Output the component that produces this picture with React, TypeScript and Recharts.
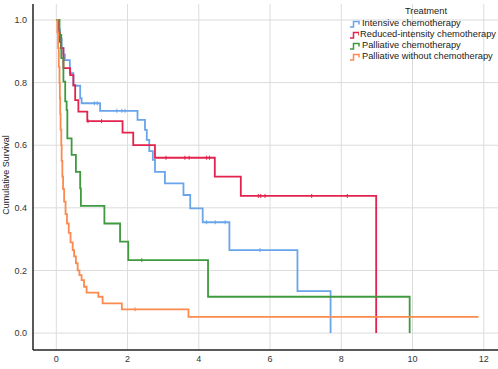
import React from "react";
import { ComposedChart, Line, Scatter, XAxis, YAxis, CartesianGrid } from "recharts";

// survival curves: [time in years, cumulative survival]
const intensive = [
  [0, 1], [0.05, 0.97], [0.1, 0.94], [0.15, 0.91], [0.2, 0.89], [0.24, 0.872], [0.38, 0.83],
  [0.48, 0.79], [0.67, 0.75], [0.71, 0.734], [1.23, 0.71], [2.28, 0.681], [2.49, 0.649],
  [2.54, 0.617], [2.61, 0.581], [2.71, 0.553], [2.77, 0.515], [3.05, 0.478], [3.57, 0.441],
  [3.76, 0.398], [4.11, 0.354], [4.86, 0.265], [6.77, 0.134], [7.7, 0],
];
const reduced = [
  [0, 1], [0.06, 0.96], [0.1, 0.93], [0.13, 0.91], [0.2, 0.846], [0.39, 0.824], [0.48, 0.792],
  [0.53, 0.744], [0.62, 0.707], [0.87, 0.677], [1.86, 0.64], [2.16, 0.6], [2.77, 0.56],
  [4.45, 0.5], [5.18, 0.438], [8.98, 0],
];
const palliative = [
  [0, 1], [0.09, 0.952], [0.14, 0.878], [0.2, 0.803], [0.25, 0.74], [0.29, 0.712], [0.31, 0.622],
  [0.43, 0.569], [0.55, 0.515], [0.67, 0.462], [0.69, 0.406], [1.35, 0.35], [1.79, 0.292],
  [2.02, 0.233], [4.26, 0.116], [9.92, 0],
];
const noChemo = [
  [0, 1], [0.03, 0.96], [0.05, 0.91], [0.07, 0.85], [0.09, 0.8], [0.1, 0.75], [0.11, 0.7],
  [0.12, 0.65], [0.14, 0.6], [0.15, 0.55], [0.17, 0.5], [0.19, 0.46], [0.22, 0.42], [0.26, 0.38],
  [0.3, 0.35], [0.35, 0.32], [0.4, 0.29], [0.46, 0.265], [0.5, 0.245], [0.55, 0.223],
  [0.6, 0.2], [0.65, 0.185], [0.71, 0.169], [0.78, 0.148], [0.85, 0.129], [1.18, 0.116],
  [1.3, 0.095], [1.84, 0.076], [3.71, 0.052], [11.85, 0.052],
];

// censored observations (times)
const intensiveCensor = [1.07, 1.15, 1.7, 1.84, 1.93, 4.22, 4.46, 4.74, 5.72];
const reducedCensor = [0.89, 1.27, 3.08, 3.61, 3.73, 4.22, 4.3, 5.67, 5.74, 5.86, 7.17, 8.17];
const palliativeCensor = [2.4];
const noChemoCensor = [2.21];

const xTicks = [0, 2, 4, 6, 8, 10, 12];
const yTicks = [0, 0.2, 0.4, 0.6, 0.8, 1.0];

const series = [
  { name: "Intensive chemotherapy", color: "#6aa5ea", curve: intensive, censor: intensiveCensor },
  { name: "Reduced-intensity chemotherapy", color: "#e3234d", curve: reduced, censor: reducedCensor },
  { name: "Palliative chemotherapy", color: "#3f9a3f", curve: palliative, censor: palliativeCensor },
  { name: "Palliative without chemotherapy", color: "#fa8a4f", curve: noChemo, censor: noChemoCensor },
];

const toRows = (curve: number[][]) => curve.map(([t, s]) => ({ t, s }));

// survival at time t on a step curve
const valueAt = (curve: number[][], t: number) => {
  let s = curve[0][1];
  for (const [ct, cs] of curve) if (ct <= t) s = cs;
  return s;
};

const font = "'Liberation Sans', Arial, sans-serif";
const tickStyle = { fontSize: 9, fill: "#333", fontFamily: font };

const StepIcon = ({ color }: { color: string }) => (
  <svg width={11} height={8} style={{ marginRight: 1 }}>
    <path d="M0,7 H3.5 V1.5 H9 V4.5" fill="none" stroke={color} strokeWidth={1.5} />
  </svg>
);

const LegendBox = () => (
  <div style={{ fontFamily: font, fontSize: 9.3, color: "#222", lineHeight: "11px" }}>
    <div style={{ textAlign: "center", paddingLeft: 6, marginBottom: 1 }}>Treatment</div>
    {series.map((s) => (
      <div key={s.name} style={{ display: "flex", alignItems: "center", whiteSpace: "nowrap" }}>
        <StepIcon color={s.color} />
        <span>{s.name}</span>
      </div>
    ))}
  </div>
);

export default function App() {
  return (
    <div style={{ position: "absolute", left: 0, top: 0, width: 498, height: 369, background: "#fff", overflow: "hidden" }}>
      <ComposedChart width={498} height={369} margin={{ top: 4, right: 0, bottom: 0, left: 0 }}>
        <CartesianGrid stroke="#dcdcdc" strokeWidth={1} horizontalValues={yTicks} verticalValues={xTicks} />
        <XAxis
          type="number"
          dataKey="t"
          domain={[-0.654, 12.4]}
          ticks={xTicks}
          allowDataOverflow
          height={19}
          tick={tickStyle}
          tickLine={false}
          tickSize={6}
          tickMargin={0}
          axisLine={{ stroke: "#222", strokeWidth: 1.5 }}
        />
        <YAxis
          type="number"
          domain={[-0.054, 1.051]}
          ticks={yTicks}
          allowDataOverflow
          width={33}
          tick={tickStyle}
          tickLine={false}
          tickSize={6}
          tickMargin={0}
          tickFormatter={(v: number) => v.toFixed(1)}
          axisLine={{ stroke: "#222", strokeWidth: 1.5 }}
        />
        {series.map((s) => (
          <Line
            key={s.name}
            data={toRows(s.curve)}
            dataKey="s"
            name={s.name}
            type="stepAfter"
            stroke={s.color}
            strokeWidth={1.8}
            dot={false}
            isAnimationActive={false}
          />
        ))}
        {series.map((s) => (
          <Scatter
            key={s.name + "-censor"}
            data={s.censor.map((t) => ({ t, s: valueAt(s.curve, t) }))}
            dataKey="s"
            isAnimationActive={false}
            shape={(p: any) => (
              <line x1={p.cx} x2={p.cx} y1={p.cy - 2} y2={p.cy + 2} stroke={s.color} strokeWidth={1} />
            )}
          />
        ))}
      </ComposedChart>
      <div style={{ position: "absolute", left: 350, top: 6, width: 146 }}>
        <LegendBox />
      </div>
      <div
        style={{
          position: "absolute",
          left: 0,
          top: 175,
          transform: "translate(0, -50%) rotate(-90deg)",
          transformOrigin: "center",
          width: 12,
          display: "flex",
          justifyContent: "center",
          fontFamily: font,
          fontSize: 9,
          color: "#222",
          whiteSpace: "nowrap",
        }}
      >
        <span>Cumulative Survival</span>
      </div>
    </div>
  );
}
